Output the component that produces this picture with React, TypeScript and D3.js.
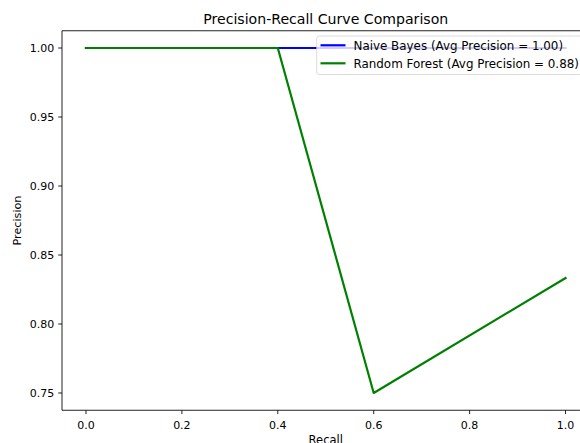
import React from "react";
import * as d3 from "d3";

const title = "Precision-Recall Curve Comparison";
const xLabel = "Recall";
const yLabel = "Precision";
const nbRecall = [0, 0.2, 0.4, 0.6, 0.8, 1.0];
const nbPrecision = [1, 1, 1, 1, 1, 1];
const rfRecall = [0, 0.4, 0.6, 1.0];
const rfPrecision = [1, 1, 0.75, 0.8333];
const seriesNames = ["Naive Bayes (Avg Precision = 1.00)", "Random Forest (Avg Precision = 0.88)"];
const seriesColors = ["#0000ff", "#008000"];
const xTicks = [0, 0.2, 0.4, 0.6, 0.8, 1.0];
const yTicks = [0.75, 0.8, 0.85, 0.9, 0.95, 1.0];

const W = 580;
const H = 443;
const left = 62;
const top = 30.75;
const bottom = 410.25;
const right = 589.5;
const font = "DejaVu Sans, sans-serif";
const fs = 11;

export default function App() {
  const x = d3.scaleLinear().domain([-0.05, 1.05]).range([left, right]);
  const y = d3.scaleLinear().domain([0.7375, 1.0125]).range([bottom, top]);
  const line = d3
    .line<[number, number]>()
    .x((d) => x(d[0]))
    .y((d) => y(d[1]));
  const nb: [number, number][] = nbRecall.map((r, i) => [r, nbPrecision[i]]);
  const rf: [number, number][] = rfRecall.map((r, i) => [r, rfPrecision[i]]);
  const series = [nb, rf];

  const legX = 316.7;
  const legY = 36;
  const legW = 267.5;
  const legH = 38.5;

  return (
    <svg
      width={W}
      height={H}
      style={{ position: "absolute", left: 0, top: 0, background: "#fff" }}
      fontFamily={font}
    >
      <rect x={0} y={0} width={W} height={H} fill="#fff" />
      <text x={(left + right) / 2} y={24.3} textAnchor="middle" fontSize={14.1} fill="#000">
        {title}
      </text>
      {series.map((s, i) => (
        <path
          key={i}
          d={line(s) || ""}
          fill="none"
          stroke={seriesColors[i]}
          strokeWidth={2.2}
          strokeLinejoin="round"
          strokeLinecap="square"
        />
      ))}
      {/* spines */}
      <line x1={left} x2={right} y1={top} y2={top} stroke="#000" strokeWidth={0.87} />
      <line x1={left} x2={right} y1={bottom} y2={bottom} stroke="#000" strokeWidth={0.87} />
      <line x1={left} x2={left} y1={top} y2={bottom} stroke="#000" strokeWidth={0.87} />
      <line x1={right} x2={right} y1={top} y2={bottom} stroke="#000" strokeWidth={0.87} />
      {xTicks.map((t) => (
        <g key={"x" + t}>
          <line x1={x(t)} x2={x(t)} y1={bottom} y2={bottom + 3.8} stroke="#000" strokeWidth={0.87} />
          <text x={x(t)} y={428.5} textAnchor="middle" fontSize={fs} fill="#000">
            {t.toFixed(1)}
          </text>
        </g>
      ))}
      {yTicks.map((t) => (
        <g key={"y" + t}>
          <line x1={left - 3.8} x2={left} y1={y(t)} y2={y(t)} stroke="#000" strokeWidth={0.87} />
          <text x={left - 7.7} y={y(t) + 3.9} textAnchor="end" fontSize={fs} fill="#000">
            {t.toFixed(2)}
          </text>
        </g>
      ))}
      <text x={(left + right) / 2} y={444} textAnchor="middle" fontSize={11.5} fill="#000">
        {xLabel}
      </text>
      <text
        transform={`translate(21,${(top + bottom) / 2}) rotate(-90)`}
        textAnchor="middle"
        fontSize={11.2}
        fill="#000"
      >
        {yLabel}
      </text>
      {/* legend */}
      <rect
        x={legX}
        y={legY}
        width={legW}
        height={legH}
        rx={2.5}
        fill="#fff"
        fillOpacity={0.8}
        stroke="#cccccc"
        strokeOpacity={0.8}
        strokeWidth={0.87}
      />
      {seriesNames.map((name, i) => {
        const cy = 45.3 + i * 18;
        return (
          <g key={name}>
            <line x1={320.5} x2={345.5} y1={cy} y2={cy} stroke={seriesColors[i]} strokeWidth={2.2} />
            <text x={353.5} y={cy + 4.2} fontSize={11.9} fill="#000">
              {name}
            </text>
          </g>
        );
      })}
    </svg>
  );
}
